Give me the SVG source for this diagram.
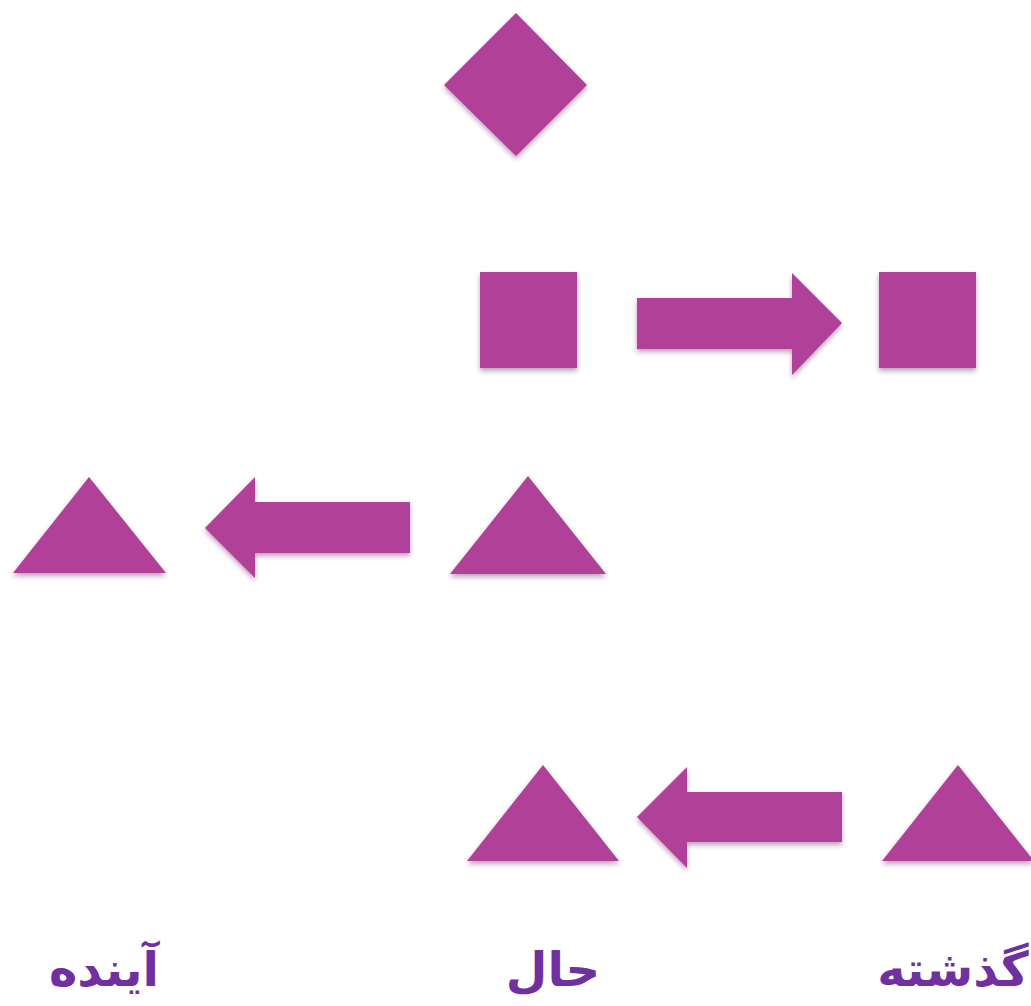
<svg xmlns="http://www.w3.org/2000/svg" width="1031" height="1006" viewBox="0 0 1031 1006">
<defs>
<filter id="sh" x="-20%" y="-20%" width="140%" height="150%">
<feDropShadow dx="0" dy="3" stdDeviation="2.5" flood-color="#6a2a70" flood-opacity="0.45"/>
</filter>
<style>
.s{fill:#B03F98;filter:url(#sh)}
.t{font-family:"DejaVu Sans",sans-serif;font-weight:bold;font-size:48px;fill:#7030A0;text-anchor:middle}
</style>
</defs>
<rect width="1031" height="1006" fill="#ffffff"/>
<g id="diamond"><polygon class="s" points="516,13 587,85 516,156 444,85"/></g>
<g id="square-left"><rect class="s" x="480" y="272" width="97" height="96"/></g>
<g id="square-right"><rect class="s" x="879" y="272" width="97" height="96"/></g>
<g id="tri-r1-left"><polygon class="s" points="89,477 166,573 13,573"/></g>
<g id="tri-r1-mid"><polygon class="s" points="528,476 606,574 450,574"/></g>
<g id="tri-r2-mid"><polygon class="s" points="543,765 619,861 467,861"/></g>
<g id="tri-r2-right"><polygon class="s" points="958,765 1034,861 882,861"/></g>
<g id="connectors">
<polygon class="s" points="637,298 792,298 792,273 842,323 792,375 792,349 637,349"/>
<polygon class="s" points="410,502 255,502 255,477 205,528 255,578 255,553 410,553"/>
<polygon class="s" points="842,792 687,792 687,767 637,817 687,868 687,842 842,842"/>
</g>
<g id="labels">
<text class="t" x="104" y="986">آینده</text>
<text class="t" x="553" y="986">حال</text>
<text class="t" x="953" y="986">گذشته</text>
</g>
</svg>
